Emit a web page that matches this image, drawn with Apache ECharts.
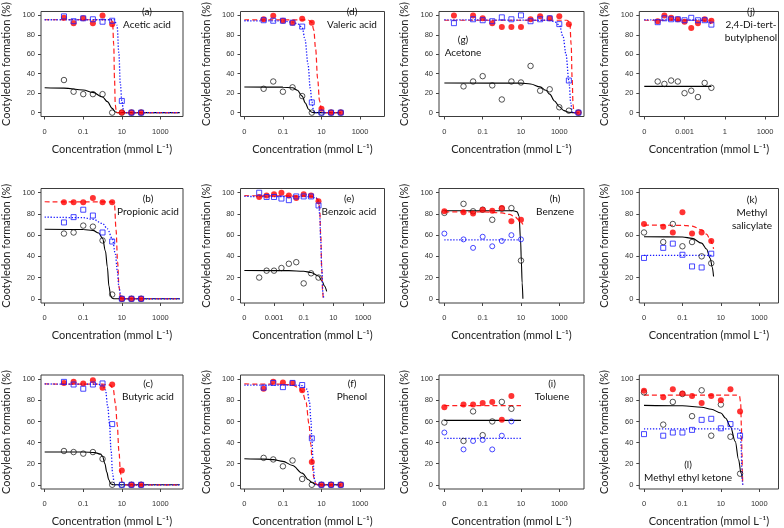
<!DOCTYPE html>
<html><head><meta charset="utf-8">
<script src="https://cdn.jsdelivr.net/npm/echarts@6/dist/echarts.min.js"></script>
<style>html,body{margin:0;padding:0;background:#fff}#c{width:784px;height:528px}</style>
</head><body><div id="c"></div>
<script>
// ================= DATA =================
// concentrations in mmol/L ; 0 = control (drawn at the axis "0" position)
const HALF_DECADES = [0.01, 0.0316, 0.1, 0.316, 1, 3.16, 10, 31.6, 100];

// tick positions are log10(concentration); labels as printed
const TICKS_STD = [-3, -1, 1, 3];
const TICK_LABELS_STD = ['0', '0.1', '10', '1000'];
const TICKS_E = [-5, -3, -1, 1, 3];
const TICK_LABELS_E = ['0', '0.001', '0.1', '10', '1000'];
const TICKS_J = [-6, -3, 0, 3];
const TICK_LABELS_J = ['0', '0.001', '1', '1000'];
const Y_TICKS = [0, 20, 40, 60, 80, 100];

// (a) Acetic acid
const A_CONC = HALF_DECADES;
const A_BLACK = [33.5, 21.5, 19, 19, 19, 0, 0, 0, 0];
const A_RED = [97.5, 92, 97, 92, 100, 91, 0, 0, 0];
const A_BLUE = [99, 94, 97, 96, 93.5, 94.5, 12, 0, 0];
// fitted curves: [log10 concentration, %]
const A_FIT_BLACK = [[-3,25.5],[-2,25.2],[-1,23.3],[-0.5,20.8],[0,16],[0.25,11.3],[0.5,4.4],[0.67,0.6],[0.78,0],[4,0]];
const A_FIT_RED = [[-3,95.5],[0.45,95.5],[0.52,93],[0.58,70],[0.62,35],[0.66,8],[0.72,0],[4,0]];
const A_FIT_BLUE = [[-3,95.5],[0.6,95.5],[0.75,90],[0.85,60],[0.92,30],[1,12],[1.08,3],[1.15,0],[4,0]];

// (d) Valeric acid
const D_CONC = HALF_DECADES;
const D_BLACK = [24.5, 32, 21.5, 26, 17, 0, 0, 0, 0];
const D_RED = [96, 99.5, 94.5, 92.5, 96.5, 92.5, 4, 0, 0];
const D_BLUE = [95, 94.5, 94.5, 92.5, 88.5, 10.5, 0, 0, 0];
const D_FIT_BLACK = [[-3,26.3],[-1,26.2],[-0.5,25.5],[-0.25,23],[0,17],[0.16,10],[0.33,3.5],[0.5,0.3],[0.6,0],[2,0]];
const D_FIT_RED = [[-3,95.5],[0.3,95.3],[0.5,93],[0.6,85],[0.7,65],[0.8,35],[0.9,12],[1,3],[1.1,0],[2,0]];
const D_FIT_BLUE = [[-3,94.5],[-1,94.3],[-0.5,93],[-0.2,91],[0,87.5],[0.15,75],[0.3,50],[0.42,25],[0.5,11],[0.58,3],[0.65,0],[2,0]];

// (g) Acetone
const G_CONC_BLACK = [0.01, 0.0316, 0.1, 0.316, 1, 3.16, 10, 31.6, 100, 316, 1000, 3160, 10000];
const G_CONC = [0.00316, 0.0316, 0.1, 0.316, 1, 3.16, 10, 31.6, 100, 316, 1000, 3160, 10000];
const G_BLACK = [27, 32, 37.5, 28, 13.5, 32, 31, 48, 22.5, 24, 5.5, 2, 0];
const G_RED = [100, 100, 97, 92, 88, 88, 88, 96, 99, 97, 99, 91, 0];
const G_BLUE = [92, 96, 95, 94, 98, 96, 100, 94, 96, 97, 91, 33, 0];
const G_FIT_BLACK = [[-3,30.5],[1,30.3],[1.5,29.5],[2,26.5],[2.3,23],[2.5,19],[2.75,12],[3,6],[3.25,2],[3.5,0.3],[3.7,0],[4,0]];
const G_FIT_RED = [[-3,95],[3.4,95],[3.55,93],[3.62,70],[3.67,35],[3.72,8],[3.77,0],[4,0]];
const G_FIT_BLUE = [[-3,95.5],[2.5,95],[2.8,93],[3,90],[3.2,78],[3.35,60],[3.5,33],[3.6,10],[3.68,0],[4,0]];

// (j) 2,4-Di-tert-butylphenol
const J_CONC = [1e-5, 3.16e-5, 1e-4, 3.16e-4, 1e-3, 3.16e-3, 0.01, 0.0316, 0.1];
const J_BLACK = [32, 29.5, 33, 32, 20, 22.5, 16, 30.5, 25.5];
const J_RED = [94, 100, 97.5, 96, 93.5, 87, 92, 96, 94.5];
const J_BLUE = [93, 97, 96, 96, 95, 97.5, 95, 95, 90.5];
const J_FIT_BLACK = [[-6,27],[-1,27]];
const J_FIT_RED = [[-6,95],[-1,95]];
const J_FIT_BLUE = [[-6,95.5],[-2,95.3],[-1.5,94.5],[-1.2,93],[-1,91]];

// (b) Propionic acid
const B_CONC = HALF_DECADES;
const B_BLACK = [61.5, 62.5, 69, 68, 55, 4, 0, 0, 0];
const B_RED = [91, 91, 91, 95, 91, 91, 0, 0, 0];
const B_BLUE = [72, 77, 84, 78.5, 62.5, 54, 0, 0, 0];
const B_FIT_BLACK = [[-3,65.5],[-1,65.3],[-0.5,64.5],[-0.2,62],[0,57],[0.15,45],[0.25,30],[0.33,12],[0.42,3],[0.5,0.5],[0.6,0],[4,0]];
const B_FIT_RED = [[-3,91.5],[0.5,91.3],[0.62,88],[0.7,65],[0.78,35],[0.85,12],[0.92,2],[1,0],[4,0]];
const B_FIT_BLUE = [[-3,77],[-1,76.5],[-0.5,75],[0,71],[0.25,66],[0.5,57],[0.67,42],[0.76,27],[0.85,11],[0.95,2],[1.05,0],[4,0]];

// (e) Benzoic acid
const E_CONC = [1e-4, 3.16e-4, 1e-3, 3.16e-3, 0.01, 0.0316, 0.1, 0.316, 1];
const E_BLACK = [20, 26.5, 26.5, 29, 33, 34.5, 14.5, 24, 20];
const E_RED = [96, 97.5, 98.5, 100, 97.5, 95, 98.5, 97.5, 92];
const E_BLUE = [100, 96, 96, 94.5, 93, 96.5, 96.5, 96.5, 88];
const E_FIT_BLACK = [[-5,26.7],[-2,26.5],[-1,26],[-0.5,24.7],[0,21.5],[0.25,16.5],[0.4,12],[0.55,7]];
const E_FIT_RED = [[-5,97.2],[-1,97],[-0.5,96.8],[-0.2,95.5],[0,93],[0.08,85],[0.15,60],[0.22,28],[0.28,6],[0.32,0]];
const E_FIT_BLUE = [[-5,96.5],[-0.5,96.3],[-0.15,95],[0,91],[0.08,80],[0.15,55],[0.22,28],[0.3,5],[0.35,0]];

// (h) Benzene
const H_CONC = [0, 0.01, 0.0316, 0.1, 0.316, 1, 3.16, 10];
const H_BLACK = [81, 89.5, 82.5, 84, 74.5, 85, 85.5, 36];
const H_RED = [82.5, 81.5, 80.5, 84, 83, 85.5, 73, 74.5];
const H_BLUE = [61.5, 56, 48, 58.5, 49.5, 54.5, 60, 56];
const H_FIT_BLACK = [[-3,83],[0.6,83],[0.8,82],[0.9,78],[0.98,55],[1.02,35],[1.06,15],[1.1,0]];
const H_FIT_RED = [[-3,82],[-1,82],[0,81],[0.4,79.5],[0.7,77],[0.9,74],[1.1,70]];
const H_FIT_BLUE = [[-3,55.5],[1,55.5]];

// (k) Methyl salicylate
const K_CONC = [0, 0.01, 0.0316, 0.1, 0.316, 1, 3.16];
const K_BLACK = [62.5, 53.5, 70.5, 49.5, 53.5, 40, 33.5];
const K_RED = [70.5, 68, 62.5, 81.5, 61.5, 62.5, 54.5];
const K_BLUE = [38.5, 48, 52, 41.5, 30.5, 29.5, 42.5];
const K_FIT_BLACK = [[-3,58.5],[-1,58.3],[-0.5,57],[0,52.5],[0.25,47],[0.45,38],[0.55,30],[0.62,21]];
const K_FIT_RED = [[-3,69.5],[-1,69.3],[-0.5,68.5],[0,65],[0.25,61],[0.45,56],[0.55,52],[0.62,47]];
const K_FIT_BLUE = [[-3,41],[0.6,41]];

// (c) Butyric acid
const C_CONC = HALF_DECADES;
const C_BLACK = [32, 31, 29.5, 31, 24.5, 0, 0, 0, 0];
const C_RED = [96.5, 97.5, 96, 99, 92, 95, 13.5, 0, 0];
const C_BLUE = [97.5, 95, 91, 95, 96, 57.5, 0, 0, 0];
const C_FIT_BLACK = [[-3,31],[-1,31],[-0.4,30.5],[-0.1,29],[0,27],[0.12,20],[0.22,12],[0.32,5],[0.42,1],[0.55,0],[4,0]];
const C_FIT_RED = [[-3,95.5],[0,95.3],[0.4,94.5],[0.55,91],[0.67,77],[0.76,57],[0.85,32],[0.93,11],[1.02,2],[1.1,0],[4,0]];
const C_FIT_BLUE = [[-3,95.5],[-0.3,95.3],[0,94.5],[0.15,90],[0.27,74],[0.36,58],[0.44,33],[0.52,11],[0.6,2],[0.68,0],[4,0]];

// (f) Phenol
const F_CONC = HALF_DECADES;
const F_BLACK = [25.5, 24, 17.5, 23, 5.5, 0, 0, 0, 0];
const F_RED = [91, 97.5, 97, 96.5, 89.5, 21.5, 0, 0, 0];
const F_BLUE = [92, 96.5, 92.5, 96.5, 94.5, 44, 0, 0, 0];
const F_FIT_BLACK = [[-3,24.6],[-2,24.3],[-1.5,23.8],[-1,22.2],[-0.5,18.3],[0,11],[0.33,4.7],[0.5,2.2],[0.7,0.3],[1,0],[2,0]];
const F_FIT_RED = [[-3,95.5],[-1,95.3],[-0.5,94.5],[-0.2,92],[0,88.5],[0.2,78],[0.35,58],[0.45,38],[0.52,20],[0.6,7],[0.7,1],[0.8,0],[2,0]];
const F_FIT_BLUE = [[-3,94.5],[-0.5,94.5],[0,94],[0.25,90.5],[0.38,78],[0.45,62],[0.5,44],[0.57,20],[0.64,5],[0.72,0],[2,0]];

// (i) Toluene
const I_CONC = [0, 0.01, 0.0316, 0.1, 0.316, 1, 3.16];
const I_BLACK = [59, 41.5, 69.5, 47, 60, 78.5, 72];
const I_RED = [73.5, 76, 76, 77.5, 78.5, 61.5, 84];
const I_BLUE = [49.5, 33.5, 41.5, 42.5, 33.5, 46.5, 60];
const I_FIT_BLACK = [[-3,61],[1,61]];
const I_FIT_RED = [[-3,75],[1,75]];
const I_FIT_BLUE = [[-3,44],[1,44]];

// (l) Methyl ethyl ketone
const L_CONC = [0, 0.01, 0.0316, 0.1, 0.316, 1, 3.16, 10, 31.6, 100];
const L_BLACK = [87.5, 57, 78.5, 86, 65, 89.5, 46.5, 76, 45.5, 10.5];
const L_RED = [89, 83, 90.5, 86.5, 84, 77.5, 84, 80, 90.5, 69.5];
const L_BLUE = [48, 46.5, 49.5, 49.5, 52, 61.5, 62.5, 53.5, 57.5, 46.5];
const L_FIT_BLACK = [[-3,75.2],[-1,74.8],[0,73.5],[0.5,71.6],[1,68],[1.25,63],[1.5,55],[1.75,41],[1.92,24],[2.05,11],[2.13,4.5]];
const L_FIT_RED = [[-3,85],[1.8,85],[1.97,84],[2.03,78],[2.07,55],[2.1,30],[2.12,10],[2.14,0]];
const L_FIT_BLUE = [[-3,53],[1.95,53],[2.02,50],[2.06,35],[2.09,15],[2.12,3],[2.14,0]];

const Y_TITLE = 'Cootyledon formation (%)';
const X_TITLE = 'Concentration (mmol L\u207B\u00B9)';

// ================= PANELS =================
const PANELS = [
  {key:'a', text:['(a)','Acetic acid'], cb:A_CONC, cr:A_CONC, black:A_BLACK, red:A_RED, blue:A_BLUE, fb:A_FIT_BLACK, fr:A_FIT_RED, fu:A_FIT_BLUE, ticks:TICKS_STD, labels:TICK_LABELS_STD, zero:-3, blueSym:'rect'},
  {key:'d', text:['(d)','Valeric acid'], cb:D_CONC, cr:D_CONC, black:D_BLACK, red:D_RED, blue:D_BLUE, fb:D_FIT_BLACK, fr:D_FIT_RED, fu:D_FIT_BLUE, ticks:TICKS_STD, labels:TICK_LABELS_STD, zero:-3, blueSym:'rect'},
  {key:'g', text:['(g)','Acetone'], cb:G_CONC_BLACK, cr:G_CONC, black:G_BLACK, red:G_RED, blue:G_BLUE, fb:G_FIT_BLACK, fr:G_FIT_RED, fu:G_FIT_BLUE, ticks:TICKS_STD, labels:TICK_LABELS_STD, zero:-3, blueSym:'rect'},
  {key:'j', text:['(j)','2,4-Di-tert-','butylphenol'], cb:J_CONC, cr:J_CONC, black:J_BLACK, red:J_RED, blue:J_BLUE, fb:J_FIT_BLACK, fr:J_FIT_RED, fu:J_FIT_BLUE, ticks:TICKS_J, labels:TICK_LABELS_J, zero:-6, blueSym:'rect'},
  {key:'b', text:['(b)','Propionic acid'], cb:B_CONC, cr:B_CONC, black:B_BLACK, red:B_RED, blue:B_BLUE, fb:B_FIT_BLACK, fr:B_FIT_RED, fu:B_FIT_BLUE, ticks:TICKS_STD, labels:TICK_LABELS_STD, zero:-3, blueSym:'rect'},
  {key:'e', text:['(e)','Benzoic acid'], cb:E_CONC, cr:E_CONC, black:E_BLACK, red:E_RED, blue:E_BLUE, fb:E_FIT_BLACK, fr:E_FIT_RED, fu:E_FIT_BLUE, ticks:TICKS_E, labels:TICK_LABELS_E, zero:-5, blueSym:'rect'},
  {key:'h', text:['(h)','Benzene'], cb:H_CONC, cr:H_CONC, black:H_BLACK, red:H_RED, blue:H_BLUE, fb:H_FIT_BLACK, fr:H_FIT_RED, fu:H_FIT_BLUE, ticks:TICKS_STD, labels:TICK_LABELS_STD, zero:-3, blueSym:'circle'},
  {key:'k', text:['(k)','Methyl','salicylate'], cb:K_CONC, cr:K_CONC, black:K_BLACK, red:K_RED, blue:K_BLUE, fb:K_FIT_BLACK, fr:K_FIT_RED, fu:K_FIT_BLUE, ticks:TICKS_STD, labels:TICK_LABELS_STD, zero:-3, blueSym:'rect'},
  {key:'c', text:['(c)','Butyric acid'], cb:C_CONC, cr:C_CONC, black:C_BLACK, red:C_RED, blue:C_BLUE, fb:C_FIT_BLACK, fr:C_FIT_RED, fu:C_FIT_BLUE, ticks:TICKS_STD, labels:TICK_LABELS_STD, zero:-3, blueSym:'rect'},
  {key:'f', text:['(f)','Phenol'], cb:F_CONC, cr:F_CONC, black:F_BLACK, red:F_RED, blue:F_BLUE, fb:F_FIT_BLACK, fr:F_FIT_RED, fu:F_FIT_BLUE, ticks:TICKS_STD, labels:TICK_LABELS_STD, zero:-3, blueSym:'rect'},
  {key:'i', text:['(i)','Toluene'], cb:I_CONC, cr:I_CONC, black:I_BLACK, red:I_RED, blue:I_BLUE, fb:I_FIT_BLACK, fr:I_FIT_RED, fu:I_FIT_BLUE, ticks:TICKS_STD, labels:TICK_LABELS_STD, zero:-3, blueSym:'circle'},
  {key:'l', text:['(l)','Methyl ethyl ketone'], cb:L_CONC, cr:L_CONC, black:L_BLACK, red:L_RED, blue:L_BLUE, fb:L_FIT_BLACK, fr:L_FIT_RED, fu:L_FIT_BLUE, ticks:TICKS_STD, labels:TICK_LABELS_STD, zero:-3, blueSym:'rect'}
];

// ================= LAYOUT (pixels / axis extents) =================
const ROW_TOP = [2, 188.5, 375];
const BOX_H = 114.5;
const LAYOUT = {
  a:{row:0, left:41, width:142, xmin:-3.19, xmax:4.17, tx:147, ty:12},
  d:{row:0, left:240.5, width:144, xmin:-3.2, xmax:4.27, tx:352, ty:12},
  g:{row:0, left:439, width:145, xmin:-3.28, xmax:4.29, tx:463, ty:40},
  j:{row:0, left:639.3, width:139.2, xmin:-6.37, xmax:4.0, tx:751, ty:12},
  b:{row:1, left:41, width:142, xmin:-3.19, xmax:4.17, tx:148, ty:199},
  e:{row:1, left:240.5, width:144, xmin:-5.26, xmax:4.45, tx:349, ty:199},
  h:{row:1, left:439, width:145, xmin:-3.28, xmax:4.29, tx:555, ty:199},
  k:{row:1, left:639.3, width:139.2, xmin:-3.245, xmax:4.0, tx:752, ty:200},
  c:{row:2, left:41, width:142, xmin:-3.19, xmax:4.17, tx:148, ty:384},
  f:{row:2, left:240.5, width:144, xmin:-3.2, xmax:4.27, tx:352, ty:384},
  i:{row:2, left:439, width:145, xmin:-3.28, xmax:4.29, tx:552, ty:384},
  l:{row:2, left:639.3, width:139.2, xmin:-3.245, xmax:4.0, tx:688, ty:465}
};

const TITLE_FONT = 'Lato, "Open Sans", sans-serif';
const TICK_FONT = '"Liberation Sans", Arial, sans-serif';

function lg(c, zero) { return c === 0 ? zero : Math.log10(c); }

const grids = [], xAxes = [], yAxes = [], series = [], graphics = [];
PANELS.forEach((p, i) => {
  const L = LAYOUT[p.key];
  grids.push({left:L.left, top:ROW_TOP[L.row], width:L.width, height:BOX_H, show:true,
    borderColor:'#3c3c3c', borderWidth:1, backgroundColor:'transparent', containLabel:false});
  xAxes.push({gridIndex:i, type:'value', min:L.xmin, max:L.xmax, position:'bottom',
    name:X_TITLE, nameLocation:'middle', nameGap:27,
    nameTextStyle:{fontFamily:TITLE_FONT, fontSize:11, color:'#222'},
    axisLine:{show:false, onZero:false},
    axisTick:{show:true, length:3, customValues:p.ticks, lineStyle:{color:'#444', width:1}},
    axisLabel:{customValues:p.ticks, margin:11, fontSize:7.5, color:'#333', fontFamily:TICK_FONT,
      formatter:(v) => { const k = p.ticks.findIndex(t => Math.abs(t - v) < 1e-6); return k >= 0 ? p.labels[k] : ''; }},
    splitLine:{show:false}});
  yAxes.push({gridIndex:i, type:'value', min:-4, max:104, position:'left',
    name:Y_TITLE, nameLocation:'middle', nameGap:29, nameRotate:90,
    nameTextStyle:{fontFamily:TITLE_FONT, fontSize:11, color:'#222'},
    axisLine:{show:false, onZero:false},
    axisTick:{show:true, length:3, customValues:Y_TICKS, lineStyle:{color:'#444', width:1}},
    axisLabel:{customValues:Y_TICKS, margin:6, fontSize:7.5, color:'#333', fontFamily:TICK_FONT},
    splitLine:{show:false}});

  const line = (pts, color, type, w) => ({type:'line', xAxisIndex:i, yAxisIndex:i, data:pts,
    showSymbol:false, smooth:0.35, smoothMonotone:'x', silent:true,
    lineStyle:{color, width:w, type}, z:3});
  series.push(line(p.fb, '#000000', 'solid', 1.1));
  series.push(line(p.fr, '#ff2020', [5, 3], 1.2));
  series.push(line(p.fu, '#1a1aff', [1.3, 1.7], 1.3));

  series.push({type:'scatter', xAxisIndex:i, yAxisIndex:i, symbol:'circle', symbolSize:5.5,
    data:p.cb.map((c, k) => [lg(c, p.zero), p.black[k]]),
    itemStyle:{color:'rgba(0,0,0,0)', borderColor:'#111', borderWidth:0.9}, z:4});
  series.push({type:'scatter', xAxisIndex:i, yAxisIndex:i, symbol:'circle', symbolSize:6,
    data:p.cr.map((c, k) => [lg(c, p.zero), p.red[k]]),
    itemStyle:{color:'#ff0000'}, z:5});
  series.push({type:'scatter', xAxisIndex:i, yAxisIndex:i, symbol:p.blueSym, symbolSize:5,
    data:p.cr.map((c, k) => [lg(c, p.zero), p.blue[k]]),
    itemStyle:{color:'rgba(0,0,0,0)', borderColor:'#1a1aff', borderWidth:1}, z:6});

  p.text.forEach((t, k) => {
    graphics.push({type:'text', x:L.tx, y:L.ty + k * 13, silent:true,
      style:{text:t, fill:'#111', font:'10px ' + TITLE_FONT, textAlign:'center', textVerticalAlign:'middle'}});
  });
});

const chart = echarts.init(document.getElementById('c'), null, {renderer:'canvas'});
chart.setOption({
  animation:false, backgroundColor:'#ffffff',
  grid:grids, xAxis:xAxes, yAxis:yAxes, series:series, graphic:graphics
});
</script></body></html>
